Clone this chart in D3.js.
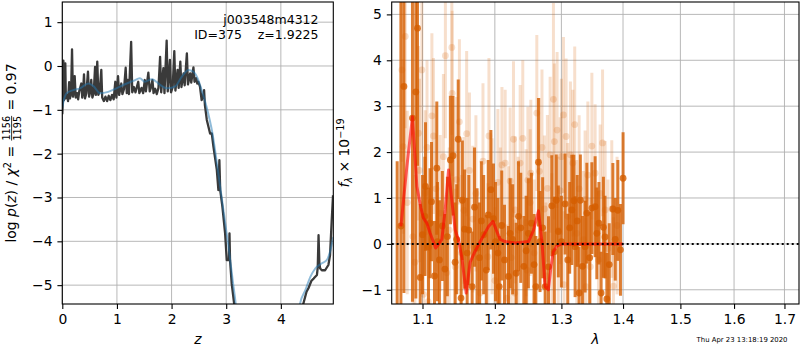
<!DOCTYPE html>
<html>
<head>
<meta charset="utf-8">
<script src="https://cdn.jsdelivr.net/npm/d3@7"></script>
<style>
body { margin: 0; background: #fff; }
svg { display: block; font-family: "DejaVu Sans", sans-serif; }
text { white-space: pre; }
</style>
</head>
<body>
<svg id="fig" width="800" height="350"></svg>
<script>
//////////////// DATA ////////////////

// Left panel: log p(z) on the redshift grid (spiky dark line)
var pzZ = [0.00,0.01,0.02,0.03,0.045,0.055,0.065,0.09,0.105,0.125,0.14,0.16,0.178,0.195,0.21,0.227,0.245,0.27,0.29,0.31,
    0.348,0.365,0.38,0.397,0.415,0.44,0.47,0.49,0.51,0.53,0.55,0.575,0.60,0.615,0.64,0.66,0.685,0.714,0.73,0.76,
    0.79,0.82,0.85,0.88,0.91,0.94,0.97,0.99,1.02,1.04,1.08,1.10,1.13,1.16,1.18,1.20,1.22,1.26,1.28,1.31,
    1.34,1.37,1.39,1.41,1.45,1.48,1.51,1.53,1.575,1.60,1.625,1.65,1.67,1.70,1.73,1.76,1.79,1.81,1.85,1.87,
    1.91,1.93,1.97,1.99,2.02,2.05,2.07,2.11,2.13,2.16,2.18,2.22,2.24,2.28,2.30,2.34,2.36,2.40,2.42,2.45,
    2.47,2.49,2.52,2.55,2.575,2.595,2.61,2.645,2.705,2.736,2.766,2.828,2.857,2.875,2.89,2.93,2.98,3.01,3.05,3.06,
    3.07,3.10,3.145,3.2,4.3,4.41,4.47,4.505,4.56,4.60,4.66,4.675,4.69,4.705,4.72,4.75,4.81,4.87,4.90,4.93,4.955];
var pzLog = [-1.10,-0.82,0.12,-0.78,-0.70,0.06,-0.74,-0.66,-0.80,-0.37,-0.74,-0.62,0.38,-0.70,-0.60,-0.23,-0.72,-0.62,-0.76,-0.58,
    -0.40,-0.72,-0.60,-0.19,-0.74,-0.62,-0.13,-0.70,-0.60,-0.32,-0.72,-0.62,-0.02,-0.66,0.10,-0.66,-0.58,-0.09,-0.72,-0.80,
    -0.70,-0.80,-0.68,-0.78,-0.66,-0.76,-0.36,-0.72,-0.23,-0.66,-0.40,-0.64,-0.52,-0.04,-0.62,-0.32,-0.64,0.55,-0.60,-0.48,
    -0.60,-0.45,-0.36,-0.62,-0.50,-0.62,-0.32,-0.58,-0.15,-0.58,-0.48,-0.32,-0.62,-0.52,-0.64,-0.50,0.21,-0.60,-0.05,-0.62,
    0.58,-0.58,0.14,-0.60,-0.48,0.34,-0.56,-0.09,-0.50,0.10,-0.48,-0.17,-0.44,0.29,-0.42,-0.17,-0.38,-0.03,-0.36,-0.28,
    -0.40,-0.36,-0.47,-0.78,-0.70,-0.55,-0.89,-1.23,-1.54,-1.54,-1.84,-2.37,-2.83,-2.15,-2.83,-3.21,-3.82,-4.43,-4.43,-3.82,
    -4.43,-4.96,-5.42,-6.2,-6.2,-5.43,-5.15,-5.07,-4.90,-4.85,-4.77,-4.60,-3.86,-4.50,-4.62,-4.66,-4.66,-4.54,-4.32,-3.55,-2.95];

// Left panel: smooth comparison curve (light blue)
var priorZ = [0.00,0.02,0.08,0.20,0.32,0.48,0.57,0.69,0.84,0.99,1.18,1.30,1.42,1.51,1.64,1.79,1.91,2.06,2.19,2.31,
    2.40,2.49,2.55,2.64,2.75,2.85,2.95,3.05,3.12,3.18,3.25,4.25,4.35,4.45,4.54,4.63,4.75,4.84,4.90,4.96];
var priorLog = [-0.95,-0.82,-0.62,-0.55,-0.51,-0.40,-0.46,-0.62,-0.59,-0.51,-0.40,-0.34,-0.28,-0.36,-0.30,-0.43,-0.51,-0.47,-0.24,-0.09,
    -0.13,-0.32,-0.55,-0.93,-1.55,-2.40,-3.30,-4.20,-4.90,-5.50,-6.50,-6.50,-5.43,-5.11,-4.81,-4.62,-4.50,-4.43,-4.24,-3.90];

// Right panel: spectrum points with errors (strong)
var specWave = [1.0670,1.0718,1.0757,1.0868,1.0912,1.0934,1.0970,1.1032,1.1040,1.1080,1.1120,1.1160,1.1191,1.1226,1.1266,1.1334,
    1.1375,1.1411,1.1462,1.1483,1.1522,1.1571,1.1607,1.1677,1.1746,1.1807,1.1877,1.1905,1.1943,1.2044,1.2064,1.2198,
    1.2223,1.2312,1.2346,1.2426,1.2494,1.2607,1.2646,1.2670,1.2748,1.2851,1.2890,1.2952,1.3058,1.3100,1.3164,1.3196,
    1.3216,1.3280,1.3333,1.3376,1.3404,1.3485,1.3538,1.3566,1.3636,1.3674,1.3730,1.3830,1.3913,1.3957,1.4001,
    1.1000,1.1100,1.1200,1.1300,1.1440,1.1540,1.1630,1.1710,1.1780,1.1840,1.1980,1.2010,1.2100,1.2140,1.2260,1.2380,
    1.2460,1.2540,1.2580,1.2710,1.2800,1.2920,1.3000,1.3130,1.3250,1.3300,1.3450,1.3600,1.3700,1.3770,1.3870];
var specFlux = [-1.40,0.39,3.43,2.74,3.31,4.70,-0.73,0.60,1.25,-0.07,0.92,-0.70,1.65,-0.35,0.39,0.16,
    1.83,1.92,0.10,2.28,-1.18,0.32,-0.20,-0.93,-0.09,0.50,-0.57,0.63,1.18,-0.20,-0.93,-0.71,
    0.23,-0.64,0.60,-0.49,0.23,-0.93,1.78,0.05,-0.93,0.83,-0.17,0.27,0.87,-0.35,0.74,0.94,
    -0.06,-1.07,-0.49,-0.06,0.67,0.78,0.81,0.23,-1.07,0.36,-1.20,0.76,0.73,-0.13,1.43,
    0.20,0.45,0.05,-0.55,-0.40,0.95,0.30,0.80,-0.30,0.20,0.55,0.05,0.40,-0.35,0.10,0.35,
    -0.15,0.45,-0.45,0.35,-0.50,0.95,0.05,0.35,0.50,0.95,-0.30,0.45,0.15,-0.45,0.10];
var specErr = [3.20,5.00,4.50,4.00,4.50,3.00,1.60,1.30,1.40,1.30,1.30,1.20,1.45,1.30,1.20,1.30,
    1.40,1.30,1.20,1.30,1.20,1.30,1.20,1.20,1.30,1.30,1.20,1.20,1.30,1.20,1.10,1.10,
    1.20,1.10,1.20,1.10,1.20,1.10,1.40,1.10,1.20,1.10,1.20,1.00,1.10,1.00,1.20,1.00,
    1.10,1.00,1.10,1.00,1.10,1.00,1.10,1.00,0.90,1.10,1.00,1.00,1.10,1.00,1.00,
    1.30,1.20,1.30,1.20,1.30,1.30,1.20,1.30,1.20,1.30,1.20,1.30,1.20,1.20,1.20,1.20,
    1.20,1.10,1.10,1.10,1.10,1.00,1.00,1.00,1.00,1.00,1.00,0.90,0.90,0.90,0.90];

// Right panel: faint points with errors
var bgWave = [1.0731,1.0747,1.0774,1.0873,1.0947,1.0992,1.1013,1.1036,1.1076,1.1125,1.1146,1.1237,1.1307,1.1326,1.1395,1.1399,
    1.1441,1.1499,1.1561,1.1639,1.1686,1.1790,1.1900,1.1915,1.2044,1.2103,1.2150,1.2175,1.2198,1.2223,1.2272,1.2290,
    1.2297,1.2371,1.2460,1.2471,1.2486,1.2521,1.2531,1.2621,1.2661,1.2737,1.2783,1.2825,1.2851,1.2876,1.2891,1.2933,
    1.2980,1.3032,1.3040,1.3074,1.3142,1.3180,1.3243,1.3349,1.3376,1.3390,1.3485,1.3538,1.3592,1.3702,1.3812,1.3840,
    1.0800,1.0900,1.0960,1.1060,1.1180,1.1280,1.1360,1.1460,1.1530,1.1600,1.1730,1.1830,1.1960,1.2000,1.2080,1.2240,
    1.2340,1.2410,1.2580,1.2700,1.2760,1.2950,1.3000,1.3100,1.3210,1.3280,1.3420,1.3460,1.3620,1.3660,1.3750,1.3900];
var bgFlux = [3.79,2.12,4.52,0.16,2.41,3.79,-1.10,1.11,-1.26,2.79,2.35,0.67,4.10,-0.63,4.28,3.28,
    -0.50,2.66,0.73,1.60,0.54,-1.07,-0.28,2.35,1.34,1.72,1.76,-1.18,0.09,1.37,2.28,-1.07,
    0.74,1.76,0.46,-0.57,1.39,0.90,1.54,2.85,1.58,0.76,1.21,1.94,-0.06,3.15,2.23,2.48,
    1.16,2.81,-0.89,2.34,1.94,1.76,0.23,0.09,0.97,-0.93,2.13,1.54,-0.35,0.74,0.76,-0.92,
    0.90,-0.40,1.60,2.10,1.20,1.90,0.30,1.40,-0.20,2.40,1.10,1.80,0.60,-0.80,0.40,-0.30,
    0.30,2.30,-0.20,2.10,-0.70,0.30,1.90,0.60,2.60,1.20,1.50,-0.50,1.10,2.20,-0.10,0.40];
var bgErr = [2.0,1.9,2.0,1.8,1.9,1.8,1.7,1.8,1.7,1.8,1.7,1.7,1.8,1.7,1.9,1.8,
    1.7,1.8,1.6,1.7,1.6,1.6,1.6,1.7,1.6,1.7,1.6,1.6,1.6,1.6,1.7,1.6,
    1.6,1.7,1.6,1.6,1.6,1.6,1.6,1.7,1.6,1.6,1.6,1.7,1.6,2.1,1.7,1.7,
    1.6,1.7,1.6,1.7,1.6,1.6,1.6,1.5,1.5,1.5,1.6,1.5,1.5,1.5,1.5,1.5,
    2.0,1.9,2.0,1.9,1.8,1.8,1.8,1.8,1.7,1.8,1.7,1.7,1.7,1.6,1.7,1.6,
    1.6,1.7,1.6,1.7,1.6,1.6,1.7,1.6,1.7,1.6,1.6,1.5,1.5,1.6,1.5,1.5];

// Right panel: best-fit model (red)
var modelWave = [1.0718,1.0795,1.0868,1.0926,1.0979,1.1013,1.1058,1.1102,1.1175,1.1191,1.1258,1.1304,1.1350,1.1394,1.1441,1.1486,
    1.1533,1.1593,1.1649,1.1706,1.1767,1.1837,1.1909,1.1973,1.2031,1.2077,1.2150,1.2297,1.2497,1.2572,1.2647,1.2699,
    1.2748,1.2798,1.2839,1.2874,1.2927,1.3005,1.4001];
var modelFlux = [0.38,1.68,2.77,1.25,0.78,0.56,0.45,0.23,-0.09,-0.06,0.09,0.74,1.61,0.96,0.30,0.09,
    -0.30,-1.07,-0.40,-0.20,-0.02,0.18,0.38,0.49,0.26,0.10,0.05,0.02,0.05,0.30,0.72,0.05,
    -0.93,-1.00,-0.49,-0.17,-0.05,0.00,0.00];

// Ticks and labels
var zTicks = [0, 1, 2, 3, 4],
    pzTicks = [-5, -4, -3, -2, -1, 0, 1],
    waveTicks = [1.1, 1.2, 1.3, 1.4, 1.5, 1.6, 1.7],
    fluxTicks = [-1, 0, 1, 2, 3, 4, 5];
var objName = "j003548m4312",
    objInfo = "ID=375    z=1.9225",
    chiNum = "1156", chiDen = "1195", chiVal = "0.97",
    stamp = "Thu Apr 23 13:18:19 2020";


//////////////// SETUP ////////////////

var svg = d3.select("#fig");
var tickFont = 13.9,
    gridColor = "#b0b0b0",
    orange = "#d55e00";

var left = {x0: 62.3, x1: 333.3, y0: 2, y1: 304},
    right = {x0: 391.7, x1: 799, y0: 2, y1: 304};

var xL = d3.scaleLinear().domain([0, 4.96]).range([left.x0, left.x1]),
    yL = d3.scaleLinear().domain([-5.43, 1.46]).range([left.y1, left.y0]),
    xR = d3.scaleLog().domain([1.06, 1.73]).range([right.x0, right.x1]),
    yR = d3.scaleLinear().domain([-1.31, 5.27]).range([right.y1, right.y0]);

var minus = function(s) { return String(s).replace("-", "\u2212"); };

// Clip paths for both panels
var defs = svg.append("defs");
[["clipL", left], ["clipR", right]].forEach(function(c) {
    defs.append("clipPath").attr("id", c[0]).append("rect")
        .attr("x", c[1].x0).attr("y", c[1].y0)
        .attr("width", c[1].x1 - c[1].x0).attr("height", c[1].y1 - c[1].y0);
});

// Grid, ticks and frame for one panel
var drawFrame = function(box, xs, ys, xt, yt, xfmt) {
    var g = svg.append("g");
    xt.forEach(function(t) {
        g.append("line").attr("x1", xs(t)).attr("x2", xs(t)).attr("y1", box.y0).attr("y2", box.y1)
            .attr("stroke", gridColor).attr("stroke-width", 0.9);
    });
    yt.forEach(function(t) {
        g.append("line").attr("x1", box.x0).attr("x2", box.x1).attr("y1", ys(t)).attr("y2", ys(t))
            .attr("stroke", gridColor).attr("stroke-width", 0.9);
    });

    var xAxis = d3.axisBottom(xs).tickValues(xt).tickSize(4.9).tickPadding(4.9)
        .tickFormat(function(d) { return minus(xfmt(d)); });
    var yAxis = d3.axisLeft(ys).tickValues(yt).tickSize(4.9).tickPadding(4.9)
        .tickFormat(function(d) { return minus(d); });

    [svg.append("g").attr("transform", "translate(0," + box.y1 + ")").call(xAxis),
     svg.append("g").attr("transform", "translate(" + box.x0 + ",0)").call(yAxis)].forEach(function(a) {
        a.select(".domain").remove();
        a.attr("font-family", "DejaVu Sans").attr("font-size", tickFont);
        a.selectAll("line").attr("stroke", "#000").attr("stroke-width", 1.1);
        a.selectAll("text").attr("fill", "#000");
    });
};

var drawBorder = function(box) {
    svg.append("rect").attr("x", box.x0).attr("y", box.y0)
        .attr("width", box.x1 - box.x0).attr("height", box.y1 - box.y0)
        .attr("fill", "none").attr("stroke", "#000").attr("stroke-width", 1.1);
};


//////////////// LEFT PANEL: p(z) ////////////////

drawFrame(left, xL, yL, zTicks, pzTicks, function(d) { return d; });

var pLeft = svg.append("g").attr("clip-path", "url(#clipL)");
var lineL = d3.line().x(function(d) { return xL(d[0]); }).y(function(d) { return yL(d[1]); });

pLeft.append("path")
    .datum(d3.zip(pzZ, pzLog))
    .attr("d", lineL)
    .attr("fill", "none").attr("stroke", "#3a3a3a").attr("stroke-width", 2.3)
    .attr("stroke-linejoin", "round");

pLeft.append("path")
    .datum(d3.zip(priorZ, priorLog))
    .attr("d", lineL.curve(d3.curveMonotoneX))
    .attr("fill", "none").attr("stroke", "#1f77b4").attr("stroke-opacity", 0.5).attr("stroke-width", 2);

drawBorder(left);

// Object name and redshift
svg.append("text").attr("x", 318.5).attr("y", 24).attr("text-anchor", "end")
    .attr("font-size", 12.5).text(objName);
svg.append("text").attr("x", 318.5).attr("y", 38.5).attr("text-anchor", "end")
    .attr("font-size", 12.5).text(objInfo);

// x label
svg.append("text").attr("x", (left.x0 + left.x1) / 2).attr("y", 344).attr("text-anchor", "middle")
    .attr("font-size", tickFont).attr("font-style", "italic").text("z");

// y label with a stacked fraction
var lab = svg.append("g").attr("transform", "translate(16," + (left.y0 + left.y1) / 2 + ") rotate(-90)");
var inner = lab.append("g");
var tA = inner.append("text").attr("font-size", tickFont);
tA.append("tspan").text("log ");
tA.append("tspan").attr("font-style", "italic").text("p");
tA.append("tspan").text("(");
tA.append("tspan").attr("font-style", "italic").text("z");
tA.append("tspan").text(") / ");
tA.append("tspan").attr("font-style", "italic").text("\u03c7");
tA.append("tspan").attr("font-size", 9.7).attr("dy", -5.5).text("2");
tA.append("tspan").attr("dy", 5.5).text(" = ");
var wA = tA.node().getComputedTextLength();

var num = inner.append("text").attr("font-size", 9.7).attr("text-anchor", "middle").attr("y", -6.5).text(chiNum),
    den = inner.append("text").attr("font-size", 9.7).attr("text-anchor", "middle").attr("y", 4.5).text(chiDen);
var fw = Math.max(num.node().getComputedTextLength(), den.node().getComputedTextLength()) + 2;
num.attr("x", wA + fw / 2);
den.attr("x", wA + fw / 2);
inner.append("line").attr("x1", wA + 1).attr("x2", wA + fw - 1).attr("y1", -4.4).attr("y2", -4.4)
    .attr("stroke", "#000").attr("stroke-width", 0.8);

var tC = inner.append("text").attr("font-size", tickFont).attr("x", wA + fw).text(" = " + chiVal);
var total = wA + fw + tC.node().getComputedTextLength();
inner.attr("transform", "translate(" + (-total / 2) + ",0)");


//////////////// RIGHT PANEL: spectrum ////////////////

drawFrame(right, xR, yR, waveTicks, fluxTicks, d3.format(".1f"));

var pRight = svg.append("g").attr("clip-path", "url(#clipR)");

var drawErrors = function(wave, flux, err, alpha) {
    var pts = wave.map(function(w, i) { return {w: w, f: flux[i], e: err[i]}; });
    var g = pRight.append("g");
    g.selectAll("line").data(pts).enter().append("line")
        .attr("x1", function(d) { return xR(d.w); })
        .attr("x2", function(d) { return xR(d.w); })
        .attr("y1", function(d) { return yR(d.f - d.e); })
        .attr("y2", function(d) { return yR(d.f + d.e); })
        .attr("stroke", orange).attr("stroke-opacity", alpha).attr("stroke-width", 3);
    g.selectAll("circle").data(pts).enter().append("circle")
        .attr("cx", function(d) { return xR(d.w); })
        .attr("cy", function(d) { return yR(d.f); })
        .attr("r", 3.4)
        .attr("fill", orange).attr("fill-opacity", alpha);
};

drawErrors(bgWave, bgFlux, bgErr, 0.2);
drawErrors(specWave, specFlux, specErr, 0.8);

pRight.append("path")
    .datum(d3.zip(modelWave, modelFlux))
    .attr("d", d3.line().x(function(d) { return xR(d[0]); }).y(function(d) { return yR(d[1]); }))
    .attr("fill", "none").attr("stroke", "#ff0000").attr("stroke-opacity", 0.6).attr("stroke-width", 3)
    .attr("stroke-linejoin", "round");

// zero line
pRight.append("line")
    .attr("x1", right.x0).attr("x2", right.x1).attr("y1", yR(0)).attr("y2", yR(0))
    .attr("stroke", "#000").attr("stroke-width", 2).attr("stroke-dasharray", "2,3");

drawBorder(right);

// axis labels
svg.append("text").attr("x", (right.x0 + right.x1) / 2).attr("y", 344).attr("text-anchor", "middle")
    .attr("font-size", tickFont).attr("font-style", "italic").text("\u03bb");

var rl = svg.append("text").attr("transform", "translate(349," + (right.y0 + right.y1) / 2 + ") rotate(-90)")
    .attr("text-anchor", "middle").attr("font-size", tickFont);
rl.append("tspan").attr("font-style", "italic").text("f");
rl.append("tspan").attr("font-style", "italic").attr("font-size", 9.7).attr("dy", 3).text("\u03bb");
rl.append("tspan").attr("dy", -3).text(" \u00d7 10");
rl.append("tspan").attr("font-size", 9.7).attr("dy", -5.5).text("\u221219");

// timestamp
svg.append("text").attr("x", 787.5).attr("y", 342).attr("text-anchor", "end")
    .attr("font-size", 6.9).text(stamp);
</script>
</body>
</html>
